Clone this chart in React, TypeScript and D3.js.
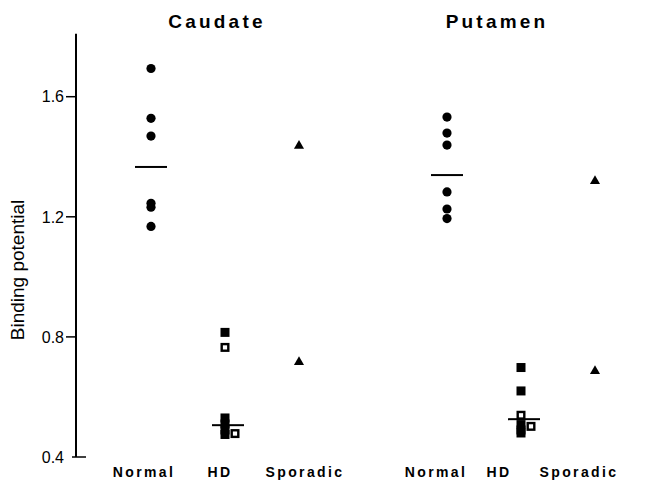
import React, { useRef, useEffect } from 'react';
import * as d3 from 'd3';

// regions and groups along the x axis
const regions = ["Caudate", "Putamen"];
const groups = ["Normal", "HD", "Sporadic"];
const yTicks = [0.4, 0.8, 1.2, 1.6];

// binding potential values
const caudateNormal = [1.694, 1.528, 1.469, 1.245, 1.232, 1.168];
const caudateHDFilled = [0.815, 0.53, 0.51, 0.49, 0.475];
const caudateHDOpen = [0.765, 0.478];
const caudateSporadic = [1.436, 0.716];
const caudateMeans = [1.366, 0.506];

const putamenNormal = [1.532, 1.479, 1.439, 1.283, 1.226, 1.194];
const putamenHDFilled = [0.698, 0.62, 0.508, 0.49, 0.48];
const putamenHDOpen = [0.539, 0.502];
const putamenSporadic = [1.319, 0.686];
const putamenMeans = [1.339, 0.526];

const W = 658, H = 492;
const font = "'Liberation Sans', Arial, Helvetica, sans-serif";

function drawChart(ref)
{
  const svg = d3.select(ref.current);
  svg.selectAll("*").remove();

  // slots 0..2 caudate, 4..6 putamen
  const x = d3.scaleLinear().domain([0, 6]).range([151, 595]);
  const y = d3.scaleLinear().domain([0.4, 1.6]).range([457, 96.7]);
  const axisX = 76;

  // y axis line
  svg.append("line")
     .attr("x1", axisX).attr("x2", axisX)
     .attr("y1", y(0.4)).attr("y2", y(1.81))
     .attr("stroke", "#000").attr("stroke-width", 2);

  svg.selectAll(".tick")
     .data(yTicks)
     .join("line")
     .attr("x1", d => d === 0.4 ? axisX - 4 : axisX - 10)
     .attr("x2", d => d === 0.4 ? axisX + 10 : axisX)
     .attr("y1", d => y(d)).attr("y2", d => y(d))
     .attr("stroke", "#000").attr("stroke-width", 1.5);

  svg.selectAll(".tlabel")
     .data(yTicks)
     .join("text")
     .attr("x", axisX - 12)
     .attr("y", d => y(d))
     .attr("dy", "0.36em")
     .attr("text-anchor", "end")
     .style("font-family", font)
     .style("font-size", "16px")
     .text(d => d.toFixed(1));

  svg.append("text")
     .attr("transform", `translate(24, 270) rotate(-90)`)
     .attr("text-anchor", "middle")
     .style("font-family", font)
     .style("font-size", "19px")
     .text("Binding potential");

  // titles and group labels
  const titleNudge = [-8, -24];
  const labelNudge = [[-7, -5, 6], [-11, -22, -16]];

  regions.forEach((r, ri) => {
    svg.append("text")
       .attr("x", x(ri * 4 + 1) + titleNudge[ri])
       .attr("y", 28)
       .attr("text-anchor", "middle")
       .style("font-family", font)
       .style("font-weight", "bold")
       .style("font-size", "19px")
       .style("letter-spacing", "3.2px")
       .text(r);

    groups.forEach((g, gi) => {
      svg.append("text")
         .attr("x", x(ri * 4 + gi) + labelNudge[ri][gi])
         .attr("y", 477)
         .attr("text-anchor", "middle")
         .style("font-family", font)
         .style("font-weight", "bold")
         .style("font-size", "14px")
         .style("letter-spacing", "2.4px")
         .text(g);
    });
  });

  const sets = [
    { slot: 0, normal: caudateNormal, filled: caudateHDFilled, open: caudateHDOpen, spor: caudateSporadic, means: caudateMeans },
    { slot: 4, normal: putamenNormal, filled: putamenHDFilled, open: putamenHDOpen, spor: putamenSporadic, means: putamenMeans },
  ];

  const sq = 9;
  const tri = d3.symbol().type(d3.symbolTriangle).size(44);

  sets.forEach(s => {
    const g = svg.append("g");

    g.selectAll(".n")
     .data(s.normal)
     .join("circle")
     .attr("cx", x(s.slot))
     .attr("cy", d => y(d))
     .attr("r", 4.6)
     .attr("fill", "#000");

    g.selectAll(".f")
     .data(s.filled)
     .join("rect")
     .attr("x", x(s.slot + 1) - sq / 2)
     .attr("y", d => y(d) - sq / 2)
     .attr("width", sq).attr("height", sq)
     .attr("fill", "#000");

    // open squares shift right when they sit on top of a filled one
    const dodge = d => d3.min(s.filled, f => Math.abs(y(f) - y(d))) < sq * 0.9 ? 10 : 0;

    g.selectAll(".o")
     .data(s.open)
     .join("rect")
     .attr("x", d => x(s.slot + 1) - sq / 2 + 1.2 + dodge(d))
     .attr("y", d => y(d) - sq / 2 + 1.2)
     .attr("width", sq - 2.4).attr("height", sq - 2.4)
     .attr("fill", "#fff")
     .attr("stroke", "#000")
     .attr("stroke-width", 2.4);

    g.selectAll(".t")
     .data(s.spor)
     .join("path")
     .attr("d", tri)
     .attr("transform", d => `translate(${x(s.slot + 2)}, ${y(d)})`)
     .attr("fill", "#000");

    // mean bars
    g.selectAll(".m")
     .data(s.means)
     .join("line")
     .attr("x1", (d, i) => x(s.slot + i) - 16 + (i === 1 ? 3 : 0))
     .attr("x2", (d, i) => x(s.slot + i) + 16 + (i === 1 ? 3 : 0))
     .attr("y1", d => y(d)).attr("y2", d => y(d))
     .attr("stroke", "#000")
     .attr("stroke-width", 2);
  });
}

export default function App() {
  const ref = useRef(null);

  useEffect(() => {
    drawChart(ref);
  }, []);

  return (
    <svg ref={ref} width={W} height={H}
         style={{ position: "absolute", left: 0, top: 0, background: "#fff" }} />
  );
}
